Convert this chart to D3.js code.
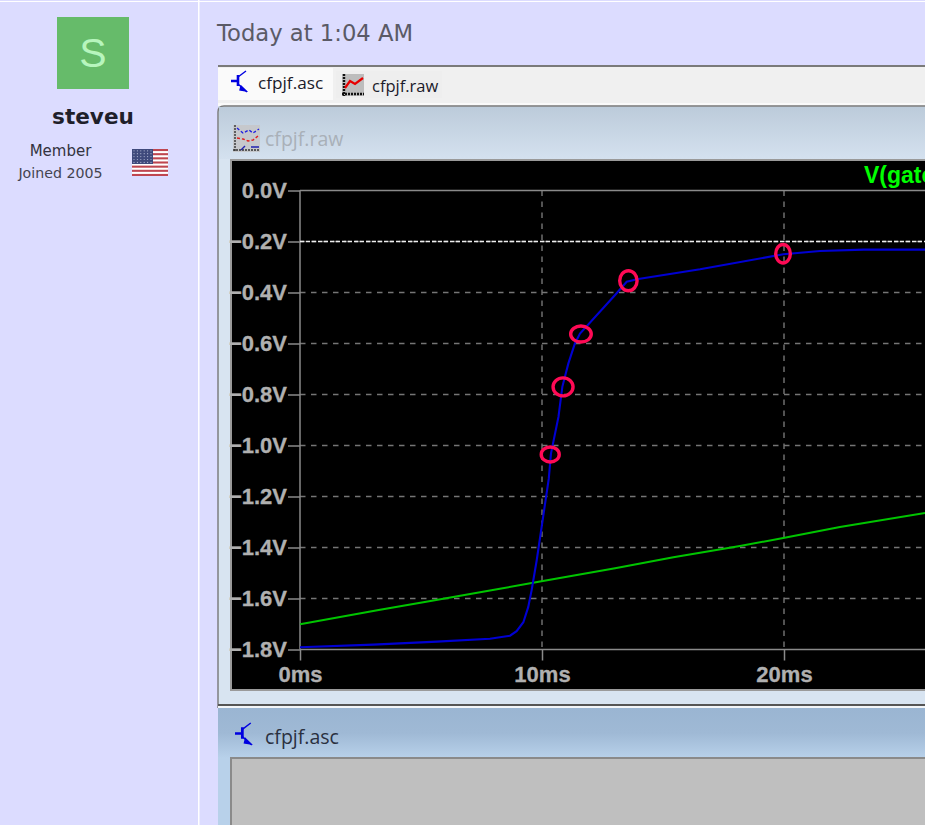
<!DOCTYPE html>
<html><head><meta charset="utf-8">
<script src="https://cdn.jsdelivr.net/npm/d3@7"></script>
<style>
html,body{margin:0;padding:0;width:925px;height:825px;overflow:hidden;background:#dcdcff}
svg{position:absolute;left:0;top:0;display:block}
.tick text{font-family:"Liberation Sans",Arial,sans-serif;font-weight:700;font-size:22px;fill:#b0b0b0;stroke:#b0b0b0;stroke-width:.3px}
</style></head><body>
<svg id="c" width="925" height="825"></svg>
<script>
// ---- data ----
const yTicks=[0,-0.2,-0.4,-0.6,-0.8,-1.0,-1.2,-1.4,-1.6,-1.8];
const xTicks=[0,10,20];
const blueTime=[0,3.03,5.66,7.85,8.68,8.95,9.23,9.43,9.57,9.71,9.78,10.28,10.37,10.68,10.84,11.09,11.36,11.57,13.02,13.5,13.98,16.53,19.97,21.49,23.3,26];
const blueVolt=[-1.791,-1.781,-1.769,-1.758,-1.746,-1.728,-1.693,-1.634,-1.568,-1.49,-1.451,-1.13,-1.032,-0.888,-0.77,-0.678,-0.6,-0.561,-0.41,-0.358,-0.347,-0.309,-0.25,-0.2375,-0.232,-0.232];
const greenTime=[0,3.31,5.51,8.26,9.92,13.02,15.43,18.18,19.97,22.31,25.83];
const greenVolt=[-1.701,-1.644,-1.608,-1.562,-1.533,-1.481,-1.438,-1.394,-1.363,-1.32,-1.265];
const circleTime=[10.34,10.87,11.61,13.57,19.96];
const circleVolt=[-1.035,-0.77,-0.563,-0.354,-0.248];
const cursorVolt=-0.2;
const traceName="V(gate)";
// ------------------------------------
const svg=d3.select("#c");
const defs=svg.append("defs");
function grad(id,stops){const g=defs.append("linearGradient").attr("id",id).attr("x1",0).attr("x2",0).attr("y1",0).attr("y2",1);
 stops.forEach(([o,c])=>g.append("stop").attr("offset",o).attr("stop-color",c));}
grad("g1",[[0,"#bccbda"],[1,"#d4e1ef"]]);
grad("g2",[[0,"#9ab5d2"],[.5,"#9fb9d5"],[1,"#b8d1ea"]]);
const R=(x,y,w,h,f,par)=>(par||svg).append("rect").attr("x",x).attr("y",y).attr("width",w).attr("height",h).attr("fill",f);
const T=(x,y,s,font,size,fill,weight,anchor)=>svg.append("text").attr("x",x).attr("y",y).text(s).attr("font-family",font).attr("font-size",size).attr("fill",fill).attr("font-weight",weight||400).attr("text-anchor",anchor||"start");
const DV='"DejaVu Sans",Verdana,sans-serif', OS='"Open Sans",sans-serif', LS='"Liberation Sans",Arial,sans-serif';

// page chrome
R(0,1,925,1,"#ffffff"); R(198,0,1.5,825,"#ffffff");
R(57,17,72,72,"#66bb6a");
T(93,67,"S",LS,41,"#b7f5bd",400,"middle");
T(93,124,"steveu",DV,21.6,"#1f1f2b",700,"middle");
T(60.5,156,"Member",DV,15,"#333340",400,"middle");
T(60.5,178,"Joined 2005",DV,14.2,"#444450",400,"middle");
// flag
const fl=svg.append("g").attr("transform","translate(132,149)");
R(0,0,36,27,"#ffffff",fl);
d3.range(7).forEach(i=>R(0,i*27/6.5,36,27/13,"#bf4650",fl));
R(0,0,21,15,"#3f4a7c",fl);
d3.range(5).forEach(r=>d3.range(6).forEach(c=>fl.append("circle").attr("cx",2+c*3.4).attr("cy",1.8+r*2.9).attr("r",.6).attr("fill","#aeb4d0")));
T(217,41,"Today at 1:04 AM",DV,22.7,"#5a5a66");

// tab strip
R(218,65,707,2,"#7a7a7a"); R(218,67,707,36,"#f0f0f0"); R(218,103,707,3,"#fafafa");
R(218,68,115,32,"#fafafa"); R(336,71,106,27,"#eeeeee");
function transistor(x,y,k){const g=svg.append("g").attr("transform",`translate(${x},${y}) scale(${k})`).attr("fill","none").attr("stroke","#0000e0").attr("stroke-width",1.4);
 g.append("path").attr("d","M0 10H6M7 4V15").attr("stroke-width",2.6);
 g.append("path").attr("d","M7 6L15 0M7 13L16 21");
 g.append("path").attr("d","M10 15L15 20L9 19Z").attr("fill","#0000e0");}
transistor(231,71,1);
T(258,89,"cfpjf.asc",OS,17.2,"#1a1a2a");
function wave(x,y){const g=svg.append("g").attr("transform",`translate(${x},${y})`);
 R(0,0,22,22,"#bdbdbd",g);
 g.append("path").attr("d","M2 0V22M0 20H22").attr("stroke","#111").attr("stroke-width",2.4).attr("stroke-dasharray","2 1").attr("fill","none");
 g.append("path").attr("d","M3 14L8 7L13 10L21 4").attr("stroke","#e80000").attr("stroke-width",2.2).attr("fill","none");}
wave(342,74);
T(372,92,"cfpjf.raw",OS,16.5,"#1a1a2a");

// plot window
R(218,106,707,599,"#d8e4f1");
svg.append("path").attr("d","M218 708V112Q218 106 224 106H925").attr("fill","none").attr("stroke","#777").attr("stroke-width",1.4);
R(219,107,706,52,"url(#g1)");
const ic=svg.append("g").attr("transform","translate(233,125)");
R(0,0,27,27,"#c6c8cc",ic);
ic.append("path").attr("d","M2 0V27M0 25H27").attr("stroke","#333").attr("stroke-width",1.4).attr("stroke-dasharray","2 1");
ic.append("path").attr("d","M4 3L10 8L16 5L20 8L26 4").attr("stroke","#2020e0").attr("stroke-dasharray","3 2").attr("fill","none").attr("stroke-width",1.4);
ic.append("path").attr("d","M4 13L10 14L15 16L20 15L25 11").attr("stroke","#e02020").attr("stroke-dasharray","3 2").attr("fill","none").attr("stroke-width",1.4);
ic.append("path").attr("d","M8 25L12 21M18 22H26").attr("stroke","#2020b0").attr("fill","none").attr("stroke-width",1.4);
T(265,146,"cfpjf.raw",OS,19.5,"#a9b0b8");
R(230,159,695,532,"#9a9a9a");
R(232,161,693,528,"#000000");

// scales
const tMax=26, vTop=0, vBot=-1.8;
const x=d3.scaleLinear().domain([0,tMax]).range([300,300+tMax*24.2]);
const y=d3.scaleLinear().domain([vTop,vBot]).range([190.5,649.5]);
const plot=svg.append("g");

// dashed grid
const dash="5.5 5.5";
plot.append("g").selectAll("line").data(yTicks.slice(1,-1)).join("line")
 .attr("x1",300).attr("x2",925).attr("y1",d=>y(d)).attr("y2",d=>y(d))
 .attr("stroke","#757575").attr("stroke-width",1.4).attr("stroke-dasharray",dash);
plot.append("g").selectAll("line").data(xTicks.slice(1)).join("line")
 .attr("x1",d=>x(d)).attr("x2",d=>x(d)).attr("y1",y(vTop)).attr("y2",y(vBot))
 .attr("stroke","#757575").attr("stroke-width",1.4).attr("stroke-dasharray",dash);

// axes
const fmtY=d=>(d===0?"0.0":d3.format(".1f")(d))+"V";
const ax=plot.append("g").attr("transform","translate(300,0)")
 .call(d3.axisLeft(y).tickValues(yTicks).tickFormat(fmtY).tickSize(12).tickPadding(1).tickSizeOuter(0));
const bx=plot.append("g").attr("transform",`translate(0,${y(vBot)})`)
 .call(d3.axisBottom(x).tickValues(xTicks).tickFormat(d=>d+"ms").tickSize(11).tickPadding(6).tickSizeOuter(0));
[ax,bx].forEach(a=>{a.select(".domain").remove();a.selectAll(".tick line").attr("stroke","#8a8a8a").attr("stroke-width",1.5);a.selectAll("text").attr("fill","#b0b0b0");});
// frame
plot.append("line").attr("x1",300).attr("x2",925).attr("y1",y(vTop)).attr("y2",y(vTop)).attr("stroke","#8a8a8a").attr("stroke-width",1.5);
plot.append("line").attr("x1",300).attr("x2",925).attr("y1",y(vBot)).attr("y2",y(vBot)).attr("stroke","#8a8a8a").attr("stroke-width",1.5);
plot.append("line").attr("x1",300).attr("x2",300).attr("y1",y(vTop)).attr("y2",y(vBot)).attr("stroke","#8a8a8a").attr("stroke-width",1.5);
// cursor line
plot.append("line").attr("x1",300).attr("x2",925).attr("y1",y(cursorVolt)).attr("y2",y(cursorVolt)).attr("stroke","#eeeeee").attr("stroke-width",1.4).attr("stroke-dasharray","4 2");

// traces
const line=d3.line().x(d=>x(d[0])).y(d=>y(d[1]));
plot.append("path").attr("d",line(d3.zip(greenTime,greenVolt))).attr("fill","none").attr("stroke","#00c400").attr("stroke-width",2);
plot.append("path").attr("d",line(d3.zip(blueTime,blueVolt))).attr("fill","none").attr("stroke","#0000d2").attr("stroke-width",2.1);

// hand-drawn rings
const ringRx=[9,10,10.3,8.7,7.3], ringRy=[7.5,9,8,10,9.3];
plot.append("g").selectAll("ellipse").data(d3.zip(circleTime,circleVolt)).join("ellipse")
 .attr("cx",d=>x(d[0])).attr("cy",d=>y(d[1])).attr("rx",(d,i)=>ringRx[i]).attr("ry",(d,i)=>ringRy[i])
 .attr("fill","none").attr("stroke","#ff0a55").attr("stroke-width",3.4);

T(864,183,traceName,LS,23,"#00ff00",700);

// schematic window
R(218,704,707,2,"#555"); R(218,706,707,2,"#f2f5f8");
R(218,708,707,117,"#b8d1ea");
R(218,708,707,50,"url(#g2)");
transistor(235,723,1.05);
T(265,744,"cfpjf.asc",OS,19.5,"#2a3040");
R(230,757,695,68,"#8a8a8a");
R(232,759,693,66,"#bfbfbf");
</script></body></html>
